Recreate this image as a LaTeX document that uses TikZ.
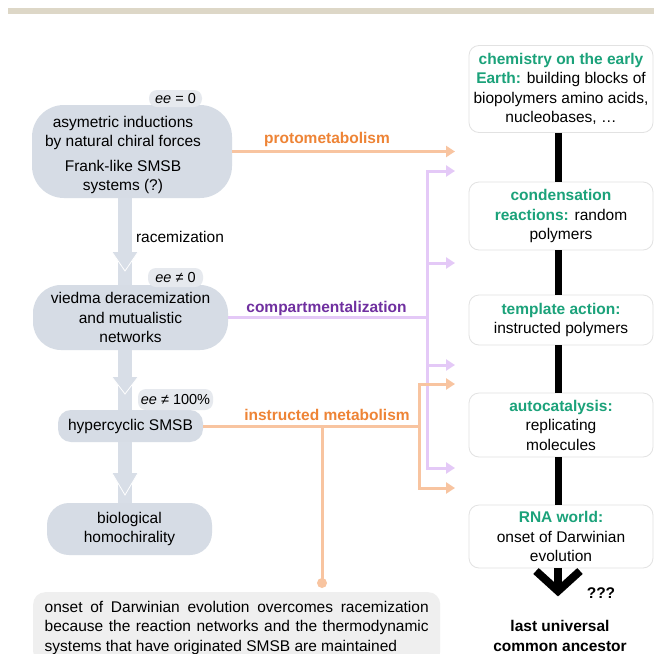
\documentclass[tikz,border=0pt]{standalone}
\usepackage{fontspec}
\setmainfont{Liberation Sans}
\usetikzlibrary{arrows.meta}
\definecolor{cnode}{HTML}{D6DCE5}
\definecolor{cband}{HTML}{D8DEE7}
\definecolor{cbadge}{HTML}{E6E9EE}
\definecolor{corl}{HTML}{F8C4A0}
\definecolor{cort}{HTML}{EE8436}
\definecolor{cpul}{HTML}{E4C9F7}
\definecolor{cput}{HTML}{7030A0}
\definecolor{cgrn}{HTML}{1BA27A}
\definecolor{cbot}{HTML}{EFEFEF}
\definecolor{cbrd}{HTML}{E2E2E2}
\definecolor{cbar}{HTML}{DDD7C7}
\newcommand\fs{\fontsize{15.5}{19.5}\selectfont}
\newcommand\gtx[1]{\textcolor{cgrn}{\bfseries #1}}
\begin{document}
\begin{tikzpicture}[x=1pt,y=-1pt,
 every node/.style={font=\fs, inner sep=0pt},
 leftbox/.style={fill=cnode, rounded corners=#1, align=center},
 badge/.style={fill=cbadge, rounded corners=8pt, font=\fontsize{14.5}{17}\selectfont},
 rbox/.style={draw=cbrd, line width=0.8pt, fill=white, rounded corners=10pt, minimum width=184pt, align=center},
 oconn/.style={draw=corl, line width=3pt},
 pconn/.style={draw=cpul, line width=3pt},
 tipd/.style={-{Triangle[length=9pt,width=11pt]}},
 olab/.style={font=\fs\bfseries, text=cort},
 plab/.style={font=\fs\bfseries, text=cput},
 spine/.style={line width=7pt, draw=black},
 band/.style={line width=14pt, draw=cband},
]
\useasboundingbox (0,0) rectangle (654,654);
\clip (0,0) rectangle (654,654);
\fill[white] (0,0) rectangle (654,654);
\fill[cbar] (8,8) rectangle (654,14);

% left column
\node[leftbox=32pt, minimum width=200pt, minimum height=93pt] (n1) at (132,151.5) {};
\node[align=center] (t1a) at (123,133) {asymetric inductions\\by natural chiral forces};
\node[align=center] (t1b) at (123,177) {Frank-like SMSB\\systems (?)};
\node[leftbox=28pt, minimum width=195pt, minimum height=65pt] (n2) at (130.5,317.5) {viedma deracemization\\and mutualistic\\networks};
\node[leftbox=13pt, minimum width=145pt, minimum height=32pt] (n3) at (130.5,426) {hypercyclic SMSB};
\node[leftbox=22pt, minimum width=165pt, minimum height=52pt] (n4) at (129.5,529) {biological\\homochirality};

\node[badge, minimum width=53pt, minimum height=17pt] (e1) at (175.5,98.5) {\textit{ee} = 0};
\node[badge, minimum width=55pt, minimum height=19pt] (e2) at (175.5,277.5) {\textit{ee} ≠ 0};
\node[badge, minimum width=75pt, minimum height=21pt] (e3) at (175.5,399.5) {\textit{ee} ≠ 100\%};

% gray band arrows
\coordinate (ax) at (125,0);
\draw[band] (n1.south -| ax) -- (n2.north -| ax);
\draw[band] (n2.south -| ax) -- (n3.north -| ax);
\draw[band] (n3.south -| ax) -- (n4.north -| ax);
\foreach \ya/\yb in {252/271, 377/394, 473/495} {
  \fill[cband] (112,\ya) -- (138,\ya) -- (125,\yb) -- cycle;
  \draw[white, line width=0.8pt] (112,\ya) -- (125,\yb) -- (138,\ya);
}
\node (rac) at (180,237) {racemization};

% right column
\node[rbox, minimum height=87pt] (b1) at (561,89) {\gtx{chemistry on the early}\\\gtx{Earth:} building blocks of\\biopolymers amino acids,\\nucleobases, …};
\node[rbox, minimum height=68pt] (b2) at (561,216) {\gtx{condensation}\\\gtx{reactions:} random\\polymers};
\node[rbox, minimum height=50pt] (b3) at (561,320) {\gtx{template action:}\\instructed polymers};
\node[rbox, minimum height=64pt] (b4) at (561,425) {\gtx{autocatalysis:}\\replicating\\molecules};
\node[rbox, minimum height=63pt] (b5) at (561,536.5) {\gtx{RNA world:}\\onset of Darwinian\\evolution};
\coordinate (bx) at (558,0);
\draw[spine] (b1.south -| bx) -- (b2.north -| bx);
\draw[spine] (b2.south -| bx) -- (b3.north -| bx);
\draw[spine] (b3.south -| bx) -- (b4.north -| bx);
\draw[spine] (b4.south -| bx) -- (b5.north -| bx);
\coordinate (vt) at (558,591);
\draw[line width=8pt] (b5.south -| bx) -- (vt);
\draw[line width=8pt, line join=miter] (536,571) -- (vt) -- (580,571);
\node[font=\fs\bfseries] (q) at (601,593) {???};
\node[font=\fs\bfseries, align=center] (luca) at (560,636) {last universal\\common ancestor};

% connectors
\coordinate (tx) at (455,0);
\coordinate (pv) at (427,0);
\coordinate (ov) at (419,0);
\coordinate (pa1) at (455,171);
\coordinate (pa2) at (455,263);
\coordinate (pa3) at (455,365);
\coordinate (pa4) at (455,468);
\coordinate (oa1) at (455,384);
\coordinate (oa2) at (455,488);
\coordinate (dot) at (322,583);
\coordinate (dx) at (322,0);

\draw[oconn, tipd] (n1.east) -- (n1.east -| tx);
\node[olab] (lproto) at (327,139) {protometabolism};

\draw[pconn] (n2.east) -- (n2.east -| pv);
\draw[pconn, {Triangle[length=9pt,width=11pt]}-{Triangle[length=9pt,width=11pt]}, line join=miter] (pa1) -- (pa1 -| pv) -- (pa4 -| pv) -- (pa4);
\draw[pconn, tipd] (pa2 -| pv) -- (pa2);
\draw[pconn, tipd] (pa3 -| pv) -- (pa3);
\node[plab] (lcomp) at (326.5,308) {compartmentalization};

\draw[oconn] (n3.east) -- (n3.east -| ov);
\draw[oconn, {Triangle[length=9pt,width=11pt]}-{Triangle[length=9pt,width=11pt]}, line join=miter] (oa1) -- (oa1 -| ov) -- (oa2 -| ov) -- (oa2);
\draw[oconn] (n3.east -| dx) -- (dot);
\fill[corl] (dot) circle (5pt);
\node[olab] (linst) at (327,415) {instructed metabolism};

% bottom note
\node[fill=cbot, rounded corners=12pt, anchor=north west, text width=384pt, align=justify, inner xsep=11.5pt, inner ysep=9pt] (note) at (33,592)
 {\tolerance=9999\hbadness=10000\hyphenpenalty=10000 onset of Darwinian evolution overcomes racemization\linebreak because the reaction networks and the thermodynamic\linebreak systems that have originated SMSB are maintained};
\end{tikzpicture}
\end{document}
